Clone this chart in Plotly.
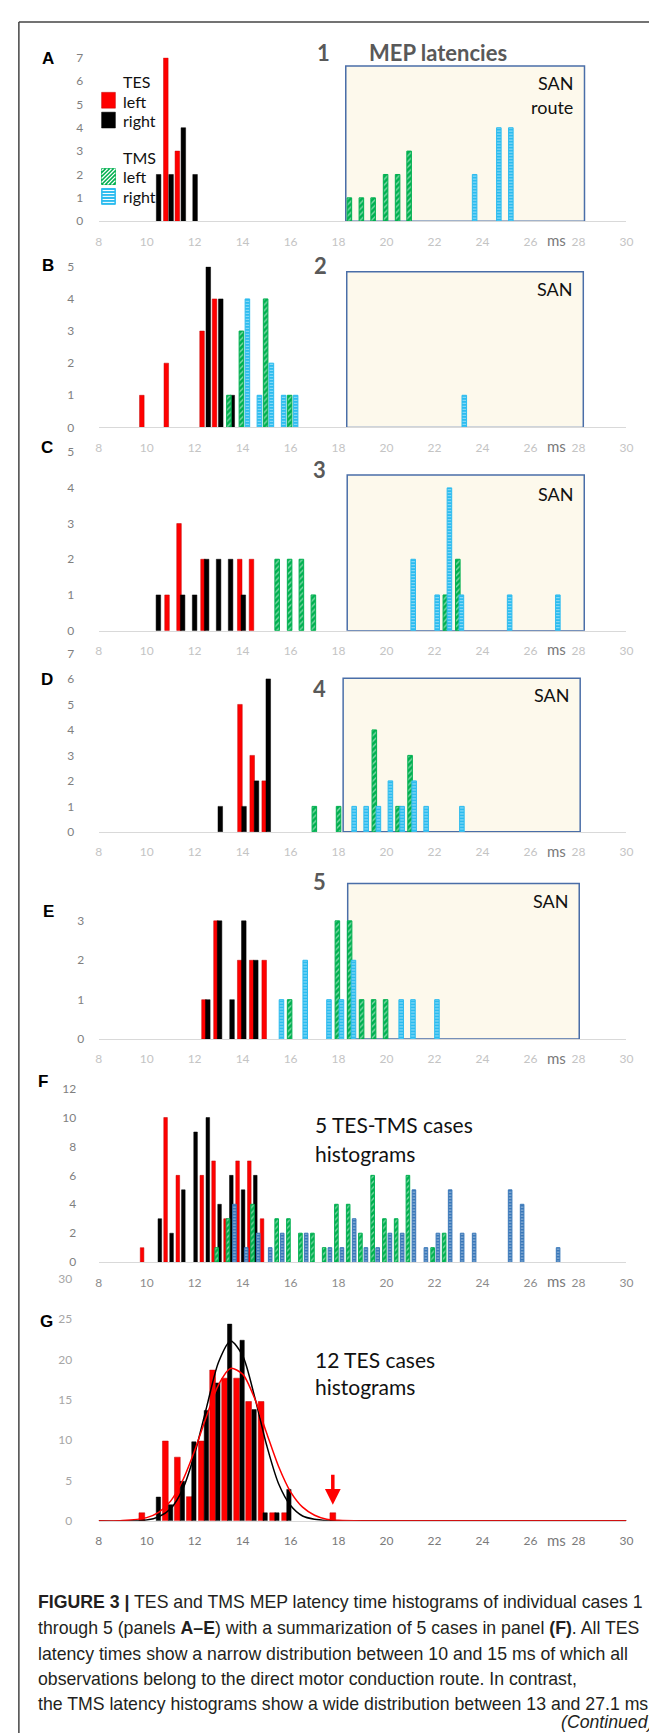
import plotly.graph_objects as go

W, H = 657, 1733

# ---------------- data ----------------
x_ticks = [8, 10, 12, 14, 16, 18, 20, 22, 24, 26, 28, 30]

# Panel A (case 1)
A_tes_left_x = [10.8, 11.28]
A_tes_left_y = [7, 3]
A_tes_right_x = [10.5, 11.02, 11.53, 12.02]
A_tes_right_y = [2, 2, 4, 2]
A_tms_left_x = [18.45, 18.95, 19.44, 19.96, 20.46, 20.94]
A_tms_left_y = [1, 1, 1, 2, 2, 3]
A_tms_right_x = [23.67, 24.68, 25.18]
A_tms_right_y = [2, 4, 4]

# Panel B (case 2)
B_tes_left_x = [9.8, 10.82, 12.31, 12.83]
B_tes_left_y = [1, 2, 3, 4]
B_tes_right_x = [12.57, 13.09, 13.57]
B_tes_right_y = [5, 4, 1]
B_tms_left_x = [13.43, 13.95, 14.96, 15.96]
B_tms_left_y = [1, 3, 4, 1]
B_tms_right_x = [14.2, 14.7, 15.2, 15.71, 16.21, 23.24]
B_tms_right_y = [4, 1, 2, 1, 1, 1]

# Panel C (case 3)
C_tes_left_x = [10.85, 11.35, 12.35, 13.88, 14.37]
C_tes_left_y = [1, 3, 2, 2, 2]
C_tes_right_x = [10.49, 11.5, 12.0, 12.5, 13.0, 13.5, 14.03]
C_tes_right_y = [1, 1, 1, 2, 2, 2, 1]
C_tms_left_x = [15.44, 15.96, 16.45, 16.95, 22.45, 22.97]
C_tms_left_y = [2, 2, 2, 1, 1, 2]
C_tms_right_x = [21.11, 22.11, 22.62, 23.12, 25.13, 27.14]
C_tms_right_y = [2, 1, 4, 1, 1, 1]

# Panel D (case 4)
D_tes_left_x = [13.89, 14.40, 14.90]
D_tes_left_y = [5, 3, 2]
D_tes_right_x = [13.07, 14.06, 14.58, 15.07]
D_tes_right_y = [1, 1, 2, 6]
D_tms_left_x = [16.99, 18.0, 19.49, 20.48, 20.98]
D_tms_left_y = [1, 1, 4, 1, 3]
D_tms_right_x = [18.65, 19.15, 19.66, 20.16, 20.65, 21.15, 21.65, 23.14]
D_tms_right_y = [1, 1, 1, 2, 1, 2, 1, 1]

# Panel E (case 5)
E_tes_left_x = [12.39, 12.89, 13.88, 14.38, 14.9]
E_tes_left_y = [1, 3, 2, 2, 2]
E_tes_right_x = [12.55, 13.04, 13.56, 14.05, 14.55]
E_tes_right_y = [1, 3, 1, 3, 2]
E_tms_left_x = [15.96, 17.95, 18.46, 18.96, 19.46, 19.96]
E_tms_left_y = [1, 3, 3, 1, 1, 1]
E_tms_right_x = [15.62, 16.61, 17.6, 18.12, 18.62, 20.61, 21.1, 22.1]
E_tms_right_y = [1, 2, 1, 1, 2, 1, 1, 1]

# Panel F (5 TES-TMS cases)
F_tes_left_x = [9.81, 10.79, 11.30, 12.30, 12.79, 13.29, 13.79, 14.28, 14.81]
F_tes_left_y = [1, 10, 6, 6, 7, 3, 7, 7, 3]
F_tes_right_x = [10.55, 11.04, 11.53, 12.04, 12.55, 13.04, 13.53, 14.02, 14.53]
F_tes_right_y = [3, 2, 5, 9, 10, 4, 6, 5, 6]
F_tms_left_x = [12.92, 13.39, 14.41, 15.42, 15.91, 16.41, 16.91, 17.40, 17.91,
                18.40, 18.91, 19.42, 19.91, 20.40, 20.89, 21.92, 22.40]
F_tms_left_y = [1, 3, 4, 3, 3, 2, 2, 1, 4, 4, 2, 6, 3, 3, 6, 1, 2]
F_tms_right_x = [13.66, 14.15, 14.65, 15.15, 15.65, 16.65, 17.64, 18.14, 18.65,
                 19.14, 19.63, 20.14, 20.65, 21.14, 21.64, 22.14, 22.65, 23.15,
                 23.65, 25.15, 25.65, 27.15]
F_tms_right_y = [4, 1, 2, 1, 2, 2, 1, 1, 3, 1, 1, 2, 2, 5, 1, 2, 5, 2, 2, 5, 4, 1]

# Panel G (12 TES cases)
G_left_x = [9.8, 10.78, 11.28, 11.78, 12.28, 12.75, 13.25, 13.75, 14.25, 14.77,
            15.25, 15.75, 17.76]
G_left_y = [1.0, 9.9, 7.9, 3.0, 9.9, 18.7, 17.7, 17.7, 14.8, 14.8, 1.0, 1.0, 1.0]
G_right_x = [10.49, 11.0, 11.49, 11.97, 12.49, 12.97, 13.46, 13.98, 14.48, 14.94,
             15.43, 15.93]
G_right_y = [2.95, 2.0, 4.9, 9.8, 13.7, 17.1, 24.4, 22.4, 13.8, 1.0, 1.0, 3.9]
G_fit_x = [8, 9, 10, 10.5, 11, 11.5, 12, 12.5, 13, 13.5, 14, 14.5, 15, 15.5, 16,
           16.5, 17, 17.5, 18, 19, 30]
G_fit_right_y = [0, 0, 0.1, 0.5, 1.5, 3.9, 8.3, 14.1, 19.7, 22.3, 20.5, 15.4, 9.4,
                 4.6, 1.9, 0.6, 0.2, 0.05, 0, 0, 0]
G_fit_left_y = [0, 0.03, 0.4, 1.05, 2.45, 5.0, 8.7, 13.0, 16.9, 18.9, 18.2, 15.2,
                10.9, 6.75, 3.6, 1.7, 0.7, 0.2, 0.07, 0, 0]
G_arrow_x = 17.76

panel_letters = ["A", "B", "C", "D", "E", "F", "G"]
case_titles = ["1", "2", "3", "4", "5"]

# ---------------- styling / geometry ----------------
RED = "#ff0000"
BLACK = "#000000"
GREEN = "#00b050"
CYAN = "#2dbcef"
STEEL = "#3a78b9"
CHART_FONT = "Lato"

X0, X1 = 89, 625  # pixel extent of x axes (8..30)


def py(p):
    return 1 - p / H


def pxp(p):
    return p / W


# per panel: bottom px, top px, y max, y ticks, y label gap, x tick color, y tick color
panels = [
    dict(bot=207, top=42, ymax=7, yt=list(range(0, 8)), gap=12, xc="#c4c4c4", yc="#7f7f7f"),
    dict(bot=415, top=253, ymax=5, yt=list(range(0, 6)), gap=21, xc="#c4c4c4", yc="#7f7f7f"),
    dict(bot=620, top=440, ymax=5, yt=list(range(0, 6)), gap=21, xc="#c4c4c4", yc="#7f7f7f"),
    dict(bot=823, top=643, ymax=7, yt=list(range(0, 8)), gap=21, xc="#c4c4c4", yc="#7f7f7f"),
    dict(bot=1032, top=873, ymax=4, yt=[0, 1, 2, 3], gap=11, xc="#c4c4c4", yc="#7f7f7f"),
    dict(bot=1257, top=1082, ymax=12, yt=list(range(0, 13, 2)), gap=19, xc="#8c8c8c", yc="#7f7f7f"),
    dict(bot=1518, top=1274, ymax=30, yt=list(range(0, 31, 5)), gap=23, xc="#7a7a7a", yc="#a6a6a6"),
]


def style(kind, tms_right_color=CYAN):
    if kind == "tes_left":
        return dict(color=RED, line=dict(color="#c00000", width=0.5))
    if kind == "tes_right":
        return dict(color=BLACK, line=dict(color=BLACK, width=0.5))
    if kind == "tms_left":
        return dict(color=GREEN, line=dict(color=GREEN, width=1),
                    pattern=dict(shape="/", fgcolor="white", size=4, solidity=0.35,
                                 fillmode="overlay"))
    return dict(color=tms_right_color, line=dict(color=tms_right_color, width=1),
                pattern=dict(shape="-", fgcolor="white", size=3, solidity=0.35,
                             fillmode="overlay"))


series = [
    [(A_tes_left_x, A_tes_left_y, "tes_left"), (A_tes_right_x, A_tes_right_y, "tes_right"),
     (A_tms_left_x, A_tms_left_y, "tms_left"), (A_tms_right_x, A_tms_right_y, "tms_right")],
    [(B_tes_left_x, B_tes_left_y, "tes_left"), (B_tes_right_x, B_tes_right_y, "tes_right"),
     (B_tms_left_x, B_tms_left_y, "tms_left"), (B_tms_right_x, B_tms_right_y, "tms_right")],
    [(C_tes_left_x, C_tes_left_y, "tes_left"), (C_tes_right_x, C_tes_right_y, "tes_right"),
     (C_tms_left_x, C_tms_left_y, "tms_left"), (C_tms_right_x, C_tms_right_y, "tms_right")],
    [(D_tes_left_x, D_tes_left_y, "tes_left"), (D_tes_right_x, D_tes_right_y, "tes_right"),
     (D_tms_left_x, D_tms_left_y, "tms_left"), (D_tms_right_x, D_tms_right_y, "tms_right")],
    [(E_tes_left_x, E_tes_left_y, "tes_left"), (E_tes_right_x, E_tes_right_y, "tes_right"),
     (E_tms_left_x, E_tms_left_y, "tms_left"), (E_tms_right_x, E_tms_right_y, "tms_right")],
    [(F_tes_left_x, F_tes_left_y, "tes_left"), (F_tes_right_x, F_tes_right_y, "tes_right"),
     (F_tms_left_x, F_tms_left_y, "tms_left"), (F_tms_right_x, F_tms_right_y, "tms_right")],
]

fig = go.Figure()
layout = dict(
    width=W, height=H, margin=dict(l=0, r=0, t=0, b=0),
    paper_bgcolor="white", plot_bgcolor="rgba(0,0,0,0)",
    barmode="overlay", showlegend=False,
    font=dict(family=CHART_FONT, color="#222222"),
)

for i, p in enumerate(panels, start=1):
    s = "" if i == 1 else str(i)
    layout["xaxis" + s] = dict(
        domain=[pxp(X0), pxp(X1)], range=[8, 30], anchor="y" + s,
        tickvals=x_ticks, showline=True, linecolor="#d9d9d9", linewidth=1,
        showgrid=False, zeroline=False, ticks="outside", ticklen=9,
        tickcolor="rgba(0,0,0,0)", tickfont=dict(family=CHART_FONT, size=12, color=p["xc"]),
        fixedrange=True)
    layout["yaxis" + s] = dict(
        domain=[py(p["bot"]), py(p["top"])], range=[0, p["ymax"]], anchor="x" + s,
        tickvals=p["yt"], showline=False, showgrid=False, zeroline=False,
        ticks="outside", ticklen=p["gap"], tickcolor="rgba(0,0,0,0)",
        tickfont=dict(family=CHART_FONT, size=12, color=p["yc"]), fixedrange=True)

# bars for panels A-F
for i, group in enumerate(series, start=1):
    s = "" if i == 1 else str(i)
    w = 0.15 if i == 6 else 0.19
    for xs, ys, kind in group:
        fig.add_trace(go.Bar(
            x=xs, y=ys, width=w, xaxis="x" + s, yaxis="y" + s,
            marker=style(kind, STEEL if i == 6 else CYAN), hoverinfo="x+y"))

# panel G
fig.add_trace(go.Bar(x=G_left_x, y=G_left_y, width=0.24, xaxis="x7", yaxis="y7",
                     marker=style("tes_left")))
fig.add_trace(go.Bar(x=G_right_x, y=G_right_y, width=0.18, xaxis="x7", yaxis="y7",
                     marker=style("tes_right")))
fig.add_trace(go.Scatter(x=G_fit_x, y=G_fit_right_y, mode="lines", xaxis="x7", yaxis="y7",
                         line=dict(color=BLACK, width=1.5, shape="spline", smoothing=0.8)))
fig.add_trace(go.Scatter(x=G_fit_x, y=G_fit_left_y, mode="lines", xaxis="x7", yaxis="y7",
                         line=dict(color=RED, width=1.5, shape="spline", smoothing=0.8)))

shapes = []
annotations = []

# SAN boxes (panels A-E)
san_boxes = [
    dict(x0=18.3, x1=28.25, top=6.64, text_y=[68, 92], text=["SAN", "route"]),
    dict(x0=18.34, x1=28.2, top=4.85, text_y=[275], text=["SAN"]),
    dict(x0=18.36, x1=28.24, top=4.36, text_y=[482], text=["SAN"]),
    dict(x0=18.19, x1=28.07, top=6.03, text_y=[685], text=["SAN"]),
    dict(x0=18.38, x1=28.03, top=3.95, text_y=[893], text=["SAN"]),
]
for i, b in enumerate(san_boxes, start=1):
    s = "" if i == 1 else str(i)
    shapes.append(dict(type="rect", xref="x" + s, yref="y" + s, x0=b["x0"], x1=b["x1"],
                       y0=0, y1=b["top"], fillcolor="#fdf9ec",
                       line=dict(color="#4a6ea8", width=1.5), layer="below"))
    for t, ty in zip(b["text"], b["text_y"]):
        annotations.append(dict(text=t, xref="x" + s, yref="paper", x=b["x1"] - 0.38,
                                y=py(ty), xanchor="right", yanchor="middle", showarrow=False,
                                font=dict(family=CHART_FONT, size=18, color="#111111")))

# case numbers and title
title_pos = [(317, 37), (314, 252), (313, 457), (313, 678), (313, 873)]
for t, (tx, ty) in zip(case_titles, title_pos):
    annotations.append(dict(text="<b>%s</b>" % t, xref="paper", yref="paper", x=pxp(tx),
                            y=py(ty), xanchor="center", yanchor="middle", showarrow=False,
                            font=dict(family=CHART_FONT, size=22, color="#595959")))
annotations.append(dict(text="<b>MEP latencies</b>", xref="paper", yref="paper",
                        x=pxp(362), y=py(37), xanchor="left", yanchor="middle",
                        showarrow=False, font=dict(family=CHART_FONT, size=22, color="#595959")))

# panel letters
letter_pos = [(38, 43), (38, 252), (37, 435), (37, 669), (38, 903), (33, 1075), (36, 1317)]
for t, (tx, ty) in zip(panel_letters, letter_pos):
    annotations.append(dict(text="<b>%s</b>" % t, xref="paper", yref="paper", x=pxp(tx),
                            y=py(ty), xanchor="center", yanchor="middle", showarrow=False,
                            font=dict(family="Liberation Sans", size=17, color="#000000")))

# "ms" unit labels
for i, p in enumerate(panels, start=1):
    s = "" if i == 1 else str(i)
    annotations.append(dict(text="ms", xref="x" + s, yref="paper", x=27.1,
                            y=py(p["bot"] + 19), xanchor="center", yanchor="middle",
                            showarrow=False,
                            font=dict(family=CHART_FONT, size=15, color="#7a7a7a")))

# legend (panel A)
leg_texts = [("TES", 66), ("left", 86), ("right", 105), ("TMS", 143), ("left", 162), ("right", 182)]
for t, ty in leg_texts:
    annotations.append(dict(text=t, xref="paper", yref="paper", x=pxp(112), y=py(ty),
                            xanchor="left", yanchor="middle", showarrow=False,
                            font=dict(family=CHART_FONT, size=16, color="#111111")))
SW0, SW1 = 92, 106
shapes.append(dict(type="rect", xref="paper", yref="paper", x0=pxp(SW0), x1=pxp(SW1),
                   y0=py(93), y1=py(77), fillcolor=RED, line=dict(color="#c00000", width=0.5)))
shapes.append(dict(type="rect", xref="paper", yref="paper", x0=pxp(SW0), x1=pxp(SW1),
                   y0=py(113), y1=py(97), fillcolor=BLACK, line=dict(color=BLACK, width=0.5)))
# hatched swatches
g_top, g_bot = 154, 170
shapes.append(dict(type="rect", xref="paper", yref="paper", x0=pxp(SW0), x1=pxp(SW1),
                   y0=py(g_bot), y1=py(g_top), fillcolor=GREEN, line=dict(color=GREEN, width=1)))
path = ""
k = SW0 + g_top + 2
while k < SW1 + g_bot:
    xa = max(SW0, k - g_bot)
    xb = min(SW1, k - g_top)
    if xb > xa:
        path += "M%.4f,%.4f L%.4f,%.4f " % (pxp(xa), py(k - xa), pxp(xb), py(k - xb))
    k += 4
shapes.append(dict(type="path", xref="paper", yref="paper", path=path,
                   line=dict(color="white", width=1.2)))
b_top, b_bot = 174, 190
shapes.append(dict(type="rect", xref="paper", yref="paper", x0=pxp(SW0), x1=pxp(SW1),
                   y0=py(b_bot), y1=py(b_top), fillcolor=CYAN, line=dict(color=CYAN, width=1)))
path = ""
yy = b_top + 2
while yy < b_bot:
    path += "M%.4f,%.4f L%.4f,%.4f " % (pxp(SW0 + 1), py(yy), pxp(SW1 - 1), py(yy))
    yy += 3
shapes.append(dict(type="path", xref="paper", yref="paper", path=path,
                   line=dict(color="white", width=1)))

# panel F/G texts
for t, ty in [("5 TES-TMS cases", 1118), ("histograms", 1147),
              ("12 TES cases", 1355), ("histograms", 1382)]:
    annotations.append(dict(text=t, xref="paper", yref="paper", x=pxp(307), y=py(ty),
                            xanchor="left", yanchor="middle", showarrow=False,
                            font=dict(family=CHART_FONT, size=21, color="#111111")))

# G arrow
annotations.append(dict(text="", xref="x7", yref="y7", x=G_arrow_x, y=2.0,
                        axref="x7", ayref="y7", ax=G_arrow_x, ay=5.9, showarrow=True,
                        arrowhead=2, arrowsize=0.9, arrowwidth=3.5, arrowcolor=RED))

# frame
shapes.append(dict(type="line", xref="paper", yref="paper", x0=pxp(8), x1=pxp(8),
                   y0=py(6), y1=0, line=dict(color="#444444", width=1.5)))
shapes.append(dict(type="line", xref="paper", yref="paper", x0=pxp(8), x1=1,
                   y0=py(6), y1=py(6), line=dict(color="#444444", width=1.5)))

# caption
caption_lines = [
    "<b>FIGURE 3 |</b> TES and TMS MEP latency time histograms of individual cases 1",
    "through 5 (panels <b>A–E</b>) with a summarization of 5 cases in panel <b>(F)</b>. All TES",
    "latency times show a narrow distribution between 10 and 15 ms of which all",
    "observations belong to the direct motor conduction route. In contrast,",
    "the TMS latency histograms show a wide distribution between 13 and 27.1 ms",
]
cap_y = [1600, 1626, 1652, 1678, 1703]
for t, ty in zip(caption_lines, cap_y):
    annotations.append(dict(text=t, xref="paper", yref="paper", x=pxp(25), y=py(ty),
                            xanchor="left", yanchor="middle", showarrow=False,
                            font=dict(family="Liberation Sans", size=17.7, color="#231f20")))
annotations.append(dict(text="<i>(Continued)</i>", xref="paper", yref="paper", x=pxp(654),
                        y=py(1721), xanchor="right", yanchor="middle", showarrow=False,
                        font=dict(family="Liberation Sans", size=17.7, color="#231f20")))

layout["shapes"] = shapes
layout["annotations"] = annotations
fig.update_layout(**layout)
fig.write_html("out.html")
